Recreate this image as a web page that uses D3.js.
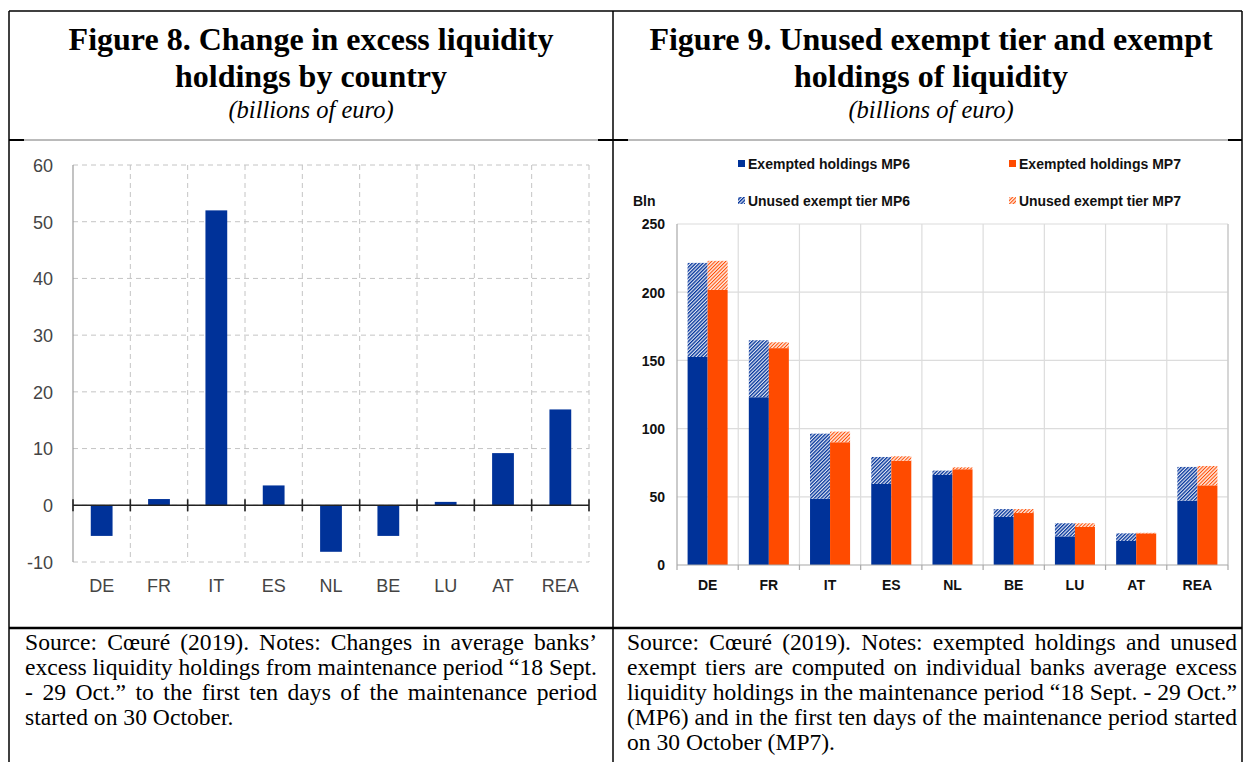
<!DOCTYPE html>
<html>
<head>
<meta charset="utf-8">
<script src="https://cdn.jsdelivr.net/npm/d3@7"></script>
<style>
  html, body { margin: 0; padding: 0; background: #fff; }
  svg { display: block; }
</style>
</head>
<body>
<svg id="chart" width="1244" height="762"></svg>
<script>
// ---------------- DATA ----------------
const countries = ["DE", "FR", "IT", "ES", "NL", "BE", "LU", "AT", "REA"];
// Figure 8: change in excess liquidity holdings (bn EUR)
const changeValues = [-5.4, 1.1, 52.0, 3.5, -8.2, -5.4, 0.6, 9.2, 16.9];
const leftTicks = [-10, 0, 10, 20, 30, 40, 50, 60];
// Figure 9: exempted holdings and unused exempt tier (bn EUR)
const exemptMP6 = [152.5, 123.0, 48.6, 59.4, 66.0, 35.2, 21.0, 17.6, 47.2];
const unusedMP6 = [69.0, 41.8, 47.7, 19.8, 3.2, 5.8, 9.6, 5.6, 24.7];
const exemptMP7 = [201.7, 159.0, 90.0, 76.5, 70.2, 38.1, 27.9, 23.2, 58.4];
const unusedMP7 = [21.3, 4.3, 7.8, 3.2, 1.4, 2.9, 2.7, 0.4, 14.2];
const rightTicks = [0, 50, 100, 150, 200, 250];
const legendLabels = ["Exempted holdings MP6", "Exempted holdings MP7", "Unused exempt tier MP6", "Unused exempt tier MP7"];

const titleLeft = ["Figure 8. Change in excess liquidity", "holdings by country"];
const titleRight = ["Figure 9. Unused exempt tier and exempt", "holdings of liquidity"];
const subtitle = "(billions of euro)";
const noteLeft = [
  "Source: Cœuré (2019). Notes: Changes in average banks’",
  "excess liquidity holdings from maintenance period “18 Sept.",
  "- 29 Oct.” to the first ten days of the maintenance period",
  "started on 30 October."
];
const noteRight = [
  "Source: Cœuré (2019). Notes: exempted holdings and unused",
  "exempt tiers are computed on individual banks average excess",
  "liquidity holdings in the maintenance period “18 Sept. - 29 Oct.”",
  "(MP6) and in the first ten days of the maintenance period started",
  "on 30 October (MP7)."
];

// ---------------- SETUP ----------------
const svg = d3.select("#chart");
const BLUE = "#003299", ORANGE = "#ff4b00";
const SERIF = "'Liberation Serif', 'Times New Roman', serif";
const SANS = "'Liberation Sans', Arial, sans-serif";

const defs = svg.append("defs");
function hatch(id, bg, fg, w) {
  const p = defs.append("pattern").attr("id", id)
    .attr("patternUnits", "userSpaceOnUse").attr("width", 2.5).attr("height", 2.5)
    .attr("patternTransform", "rotate(45)");
  p.append("rect").attr("width", 2.5).attr("height", 2.5).attr("fill", bg);
  p.append("rect").attr("width", w).attr("height", 2.5).attr("fill", fg);
}
hatch("hBlue", "#e2e7f4", BLUE, 1.3);
hatch("hOrange", "#ffe8dd", ORANGE, 1.0);

// ---------------- TABLE FRAME ----------------
const T = { l: 9, r: 1242, m: 613, top: 11, head: 140, cap: 628, bottom: 762 };
const frame = svg.append("g");
frame.append("line").attr("x1", T.l).attr("x2", T.r).attr("y1", T.top).attr("y2", T.top).attr("stroke", "#000").attr("stroke-width", 1.5);
[T.l, T.m, T.r].forEach(x => frame.append("line").attr("x1", x).attr("x2", x).attr("y1", T.top).attr("y2", T.bottom).attr("stroke", "#000").attr("stroke-width", 1.5));
frame.append("line").attr("x1", T.l).attr("x2", T.r).attr("y1", T.head).attr("y2", T.head).attr("stroke", "#777").attr("stroke-width", 1);
[[T.l, 24], [598, 628], [1228, T.r]].forEach(s => frame.append("line").attr("x1", s[0]).attr("x2", s[1]).attr("y1", T.head).attr("y2", T.head).attr("stroke", "#000").attr("stroke-width", 2));
frame.append("line").attr("x1", T.l).attr("x2", T.r).attr("y1", T.cap).attr("y2", T.cap).attr("stroke", "#000").attr("stroke-width", 2.5);

// ---------------- TITLES ----------------
function titles(cx, lines) {
  const g = svg.append("g").attr("font-family", SERIF).attr("text-anchor", "middle");
  lines.forEach((t, i) => g.append("text").attr("x", cx).attr("y", 50 + i * 37)
    .attr("font-size", 32).attr("font-weight", "bold").attr("fill", "#000").text(t));
  g.append("text").attr("x", cx).attr("y", 118).attr("font-size", 24.5).attr("font-style", "italic").attr("fill", "#000").text(subtitle);
}
titles(311, titleLeft);
titles(931, titleRight);

// ---------------- NOTES (justified) ----------------
function measure(str, fs) {
  const tmp = svg.append("text").attr("font-family", SERIF).attr("font-size", fs).text(str);
  const wd = tmp.node().getComputedTextLength(); tmp.remove(); return wd;
}
function notes(x0, x1, lines) {
  const base = 20;
  // font size chosen so the tightest justified line fits at normal spacing
  const ratios = lines.slice(0, -1).map(l => (x1 - x0) / measure(l, base));
  const fs = base * d3.min(ratios);
  const t = svg.append("text").attr("font-family", SERIF).attr("font-size", fs).attr("fill", "#000");
  lines.forEach((line, i) => {
    const y = 650 + i * 25;
    const words = line.split(" ");
    const widths = words.map(w => measure(w, fs));
    const last = i === lines.length - 1;
    const total = d3.sum(widths);
    const gap = last || words.length < 2 ? fs * 0.25 : (x1 - x0 - total) / (words.length - 1);
    let x = x0;
    words.forEach((w, k) => {
      t.append("tspan").attr("x", x).attr("y", y).text(w);
      x += widths[k] + gap;
    });
  });
}
notes(25, 597, noteLeft);
notes(627, 1237, noteRight);

// ---------------- FIGURE 8 ----------------
{
  const x = d3.scaleBand().domain(countries).range([73, 589]).paddingInner(0.62).paddingOuter(0.31);
  const y = d3.scaleLinear().domain([-10, 60]).range([562, 165]);
  const step = x.step();
  const g = svg.append("g");
  const bounds = d3.range(countries.length + 1).map(i => 73 + i * step);
  // grid
  g.selectAll(".hg").data(leftTicks).join("line")
    .attr("x1", 73).attr("x2", 589).attr("y1", d => y(d)).attr("y2", d => y(d))
    .attr("stroke", "#c4c4c4").attr("stroke-dasharray", "5,4").attr("stroke-width", 1);
  g.selectAll(".vg").data(bounds.slice(1)).join("line")
    .attr("x1", d => d).attr("x2", d => d).attr("y1", y(60)).attr("y2", y(-10))
    .attr("stroke", "#c4c4c4").attr("stroke-dasharray", "5,4").attr("stroke-width", 1);
  g.append("line").attr("x1", 73).attr("x2", 73).attr("y1", y(60)).attr("y2", y(-10)).attr("stroke", "#9a9a9a").attr("stroke-width", 1.2);
  // bars
  g.selectAll(".bar").data(changeValues).join("rect")
    .attr("x", (d, i) => x(countries[i])).attr("width", x.bandwidth())
    .attr("y", d => y(Math.max(0, d))).attr("height", d => Math.abs(y(d) - y(0)))
    .attr("fill", BLUE);
  // zero axis with ticks
  g.append("line").attr("x1", 73).attr("x2", 589).attr("y1", y(0)).attr("y2", y(0)).attr("stroke", "#222").attr("stroke-width", 1.6);
  g.selectAll(".zt").data(bounds).join("line")
    .attr("x1", d => d).attr("x2", d => d).attr("y1", y(0) - 6).attr("y2", y(0) + 6)
    .attr("stroke", "#222").attr("stroke-width", 1.6);
  // y labels
  const yAxis = d3.axisLeft(y).tickValues(leftTicks).tickFormat(d => String(d)).tickSize(0).tickPadding(0);
  const ya = g.append("g").attr("transform", "translate(53,0)").call(yAxis);
  ya.select(".domain").remove();
  ya.selectAll("text").attr("font-family", SANS).attr("font-size", 18).attr("fill", "#444").attr("dy", "0.35em");
  // x labels
  const xAxis = d3.axisBottom(x).tickSize(0).tickPadding(0);
  const xa = g.append("g").attr("transform", "translate(0,579)").call(xAxis);
  xa.select(".domain").remove();
  xa.selectAll("text").attr("font-family", SANS).attr("font-size", 18).attr("fill", "#444").attr("dy", "0.71em");
}

// ---------------- FIGURE 9 ----------------
{
  const L = 677, R = 1228;
  const x = d3.scaleBand().domain(countries).range([L, R]).paddingInner(0.346).paddingOuter(0.173);
  const xs = d3.scaleBand().domain(["MP6", "MP7"]).range([0, x.bandwidth()]);
  const y = d3.scaleLinear().domain([0, 250]).range([565, 224]);
  const step = x.step();
  const bounds = d3.range(countries.length + 1).map(i => L + i * step);
  const g = svg.append("g");
  g.selectAll(".hg").data(rightTicks.slice(1)).join("line")
    .attr("x1", L).attr("x2", R).attr("y1", d => y(d)).attr("y2", d => y(d))
    .attr("stroke", "#dcdcdc").attr("stroke-width", 1.2);
  g.selectAll(".vg").data(bounds.slice(1)).join("line")
    .attr("x1", d => d).attr("x2", d => d).attr("y1", y(250)).attr("y2", y(0))
    .attr("stroke", "#dcdcdc").attr("stroke-width", 1.2);
  g.append("line").attr("x1", R).attr("x2", R).attr("y1", y(250)).attr("y2", y(0)).attr("stroke", "#c8c8c8").attr("stroke-width", 1.2);
  g.append("line").attr("x1", L).attr("x2", L).attr("y1", y(250)).attr("y2", y(0)).attr("stroke", "#a8a8a8").attr("stroke-width", 1.2);
  // bars
  const series = [
    { key: "MP6", base: exemptMP6, extra: unusedMP6, solid: BLUE, pat: "url(#hBlue)" },
    { key: "MP7", base: exemptMP7, extra: unusedMP7, solid: ORANGE, pat: "url(#hOrange)" }
  ];
  series.forEach(s => {
    countries.forEach((c, i) => {
      const bx = x(c) + xs(s.key), bw = xs.bandwidth();
      g.append("rect").attr("x", bx).attr("width", bw)
        .attr("y", y(s.base[i])).attr("height", y(0) - y(s.base[i])).attr("fill", s.solid);
      const top = s.base[i] + s.extra[i];
      g.append("rect").attr("x", bx).attr("width", bw)
        .attr("y", y(top)).attr("height", y(s.base[i]) - y(top)).attr("fill", s.pat);
    });
  });
  // x axis
  g.append("line").attr("x1", L).attr("x2", R).attr("y1", y(0)).attr("y2", y(0)).attr("stroke", "#a8a8a8").attr("stroke-width", 1.2);
  g.selectAll(".xt").data(bounds).join("line")
    .attr("x1", d => d).attr("x2", d => d).attr("y1", y(0)).attr("y2", y(0) + 5)
    .attr("stroke", "#a8a8a8").attr("stroke-width", 1.2);
  const yAxis = d3.axisLeft(y).tickValues(rightTicks).tickFormat(d => String(d)).tickSize(0).tickPadding(0);
  const ya = g.append("g").attr("transform", "translate(665,0)").call(yAxis);
  ya.select(".domain").remove();
  ya.selectAll("text").attr("font-family", SANS).attr("font-size", 14).attr("font-weight", "bold").attr("fill", "#111").attr("dy", "0.35em");
  const xAxis = d3.axisBottom(x).tickSize(0).tickPadding(0);
  const xa = g.append("g").attr("transform", "translate(0,580)").call(xAxis);
  xa.select(".domain").remove();
  xa.selectAll("text").attr("font-family", SANS).attr("font-size", 14).attr("font-weight", "bold").attr("fill", "#111").attr("dy", "0.71em");
  // Bln label
  g.append("text").attr("x", 633).attr("y", 206).attr("font-family", SANS).attr("font-size", 14).attr("font-weight", "bold").attr("fill", "#111").text("Bln");
  // legend
  const fills = [BLUE, ORANGE, "url(#hBlue)", "url(#hOrange)"];
  const lx = [738, 1009], ly = [164, 201];
  legendLabels.forEach((lab, i) => {
    const cx = lx[i % 2], cy = ly[Math.floor(i / 2)];
    g.append("rect").attr("x", cx).attr("y", cy - 4).attr("width", 7).attr("height", 7).attr("fill", fills[i]);
    g.append("text").attr("x", cx + 10).attr("y", cy).attr("dy", "0.35em")
      .attr("font-family", SANS).attr("font-size", 14).attr("font-weight", "bold").attr("fill", "#111")
      .attr("textLength", 162).attr("lengthAdjust", "spacingAndGlyphs").text(lab);
  });
}
</script>
</body>
</html>
